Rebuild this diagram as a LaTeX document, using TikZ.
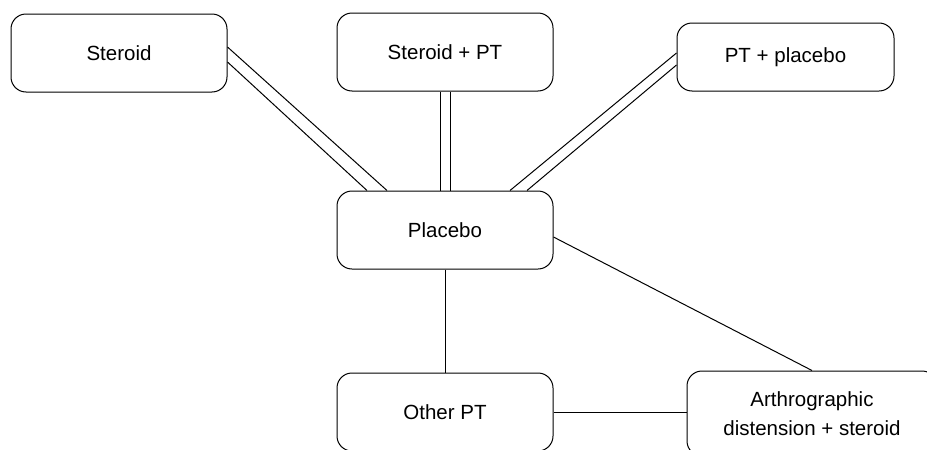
\documentclass[tikz,border=0pt]{standalone}
\usepackage{fontspec}
\setmainfont{Liberation Sans}
\begin{document}
\begin{tikzpicture}[x=1pt,y=-1pt,
  box/.style={draw=black, line width=1pt, rounded corners=15pt, fill=white,
    minimum width=216pt, minimum height=78pt, align=center, inner sep=2pt,
    font=\fontsize{20.5pt}{29pt}\selectfont},
  link/.style={draw=black, line width=1pt}]
\useasboundingbox (0,0) rectangle (927,450);
\clip (0,0) rectangle (927,450);
\fill[white] (0,0) rectangle (927,450);
\node[box] (s) at (119,53) {Steroid};
\node[box] (sp) at (445,52) {Steroid + PT};
\node[box, minimum width=217pt, minimum height=68pt] (pp) at (785.5,57) {PT + placebo};
\node[box] (p) at (445,230) {Placebo};
\node[box] (o) at (445,412) {Other PT};
\node[box, minimum width=250pt, minimum height=85pt] (a) at (812,413.5) {Arthrographic\\distension + steroid};
% double connectors
\draw[link] ([yshift=6pt]s.east) -- ([xshift=-58pt]p.north);
\draw[link] ([yshift=-9pt]s.east) -- ([xshift=-78pt]p.north);
\draw[link] ([xshift=-5pt]sp.south) -- ([xshift=-5pt]p.north);
\draw[link] ([xshift=5pt]sp.south) -- ([xshift=5pt]p.north);
\draw[link] ([yshift=4pt]pp.west) -- ([xshift=65pt]p.north);
\draw[link] ([yshift=-8pt]pp.west) -- ([xshift=82pt]p.north);
% single connectors
\draw[link] ([yshift=-7pt]p.east) -- (a.north);
\draw[link] (p.south) -- (o.north);
\draw[link] (o.east) -- (o.east -| a.west);
\end{tikzpicture}
\end{document}
